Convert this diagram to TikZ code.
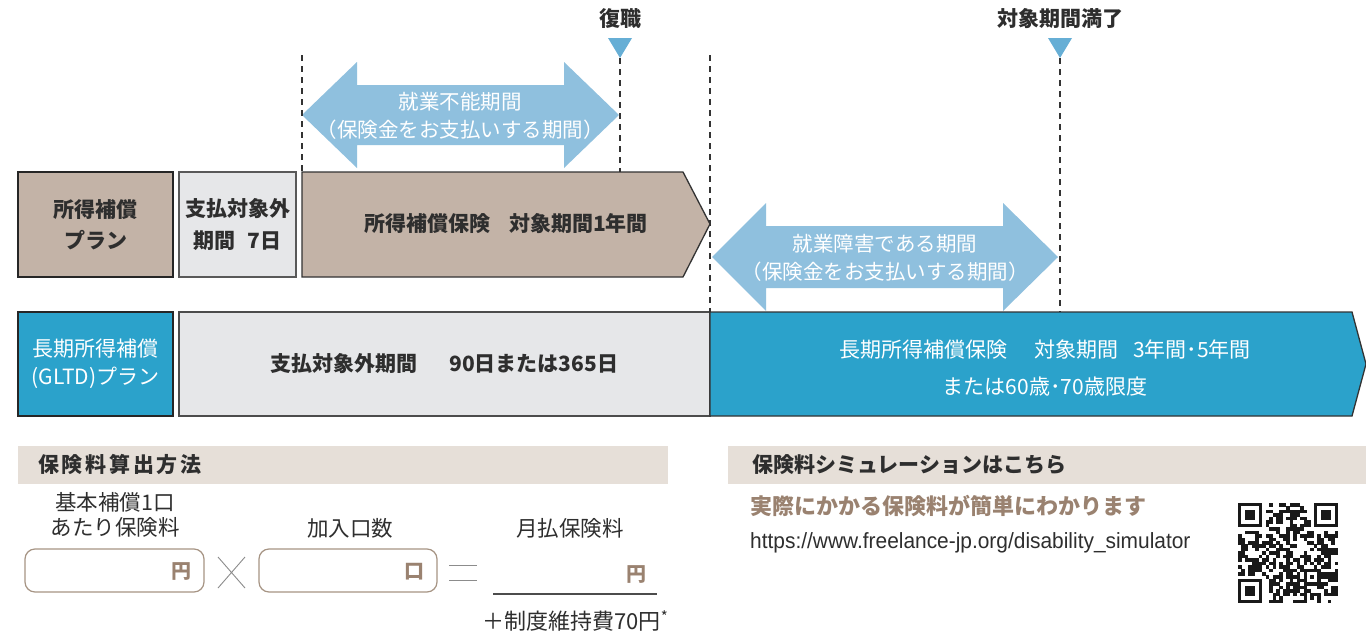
\documentclass[tikz,border=0pt]{standalone}
\usepackage{fontspec}
\setmainfont{Noto Sans CJK JP}
\newfontfamily\urlfont[FakeStretch=0.95]{Liberation Sans}
\definecolor{brownbox}{HTML}{C3B3A7}
\definecolor{graybox}{HTML}{E6E7E9}
\definecolor{bluebox}{HTML}{2BA2CB}
\definecolor{arrowblue}{HTML}{8FC0DE}
\definecolor{triblue}{HTML}{66AED5}
\definecolor{band}{HTML}{E6DFD8}
\definecolor{browntext}{HTML}{9A8270}
\definecolor{roundborder}{HTML}{A69484}
\definecolor{darktext}{HTML}{2E2E2E}
\definecolor{edge}{HTML}{333333}
\tikzset{
  darklbl/.style={text=darktext, font=\bfseries\fontsize{21}{31}\selectfont, align=center, inner sep=0},
  whitelbl/.style={text=white, font=\fontsize{20.5}{28}\selectfont, align=center, inner sep=0},
  formlbl/.style={text=darktext, font=\fontsize{21.5}{25}\selectfont, align=center, inner sep=0},
  headlbl/.style={text=darktext, font=\bfseries\fontsize{21}{25}\selectfont, anchor=west, inner sep=0},
  unitlbl/.style={text=browntext, font=\bfseries\fontsize{20}{24}\selectfont, inner sep=0},
  plainbox/.style={draw=edge, line width=1.2pt, inner sep=0},
  inputbox/.style={draw=roundborder, line width=1.2pt, rounded corners=10pt, fill=white},
  guideline/.style={draw=edge, line width=1.5pt, dash pattern=on 6pt off 5pt},
  band/.style={fill=band, draw=none},
}
\begin{document}
\begin{tikzpicture}[x=1pt,y=-1pt]
\useasboundingbox (0,0) rectangle (1366,632);
\fill[white] (0,0) rectangle (1366,632);

% ---------- double arrows ----------
\fill[arrowblue] (302,115) -- (357,62) -- (357,85) -- (564,85) -- (564,62) -- (619,115)
  -- (564,168) -- (564,145) -- (357,145) -- (357,168) -- cycle;
\node[whitelbl] (a1) at (460,116) {就業不能期間\\（保険金をお支払いする期間）};

\fill[arrowblue] (712,257) -- (766,203) -- (766,226) -- (1003,226) -- (1003,203) -- (1058,257)
  -- (1003,311) -- (1003,288) -- (766,288) -- (766,311) -- cycle;
\node[whitelbl] (a2) at (885,258) {就業障害である期間\\（保険金をお支払いする期間）};

% ---------- row 1 ----------
\node[plainbox, line width=2pt, draw=black!85, fill=brownbox, minimum width=155pt, minimum height=105pt] (p1) at (95.5,224.5) {};
\node[darklbl] (p1t) at (p1.center) {所得補償\\プラン};
\node[plainbox, draw=black!65, fill=graybox, minimum width=117pt, minimum height=105pt] (w1) at (237.5,224.5) {};
\node[darklbl, font=\bfseries\fontsize{21}{32}\selectfont] (w1t) at (w1.center) {支払対象外\\期間\hspace{0.6em}7日};
\filldraw[fill=brownbox, draw=edge, line width=1.3pt] (302,172) -- (683,172) -- (710,224) -- (683,277) -- (302,277) -- cycle;
\node[darklbl] (i1) at (506,224) {所得補償保険\hspace{0.9em}対象期間1年間};

% ---------- row 2 ----------
\node[plainbox, line width=2pt, draw=black!85, fill=bluebox, minimum width=155pt, minimum height=104pt] (p2) at (95.5,364) {};
\node[whitelbl, font=\fontsize{21}{28}\selectfont] (p2t) at (p2.center) {長期所得補償\\(GLTD)プラン};
\node[plainbox, draw=black!70, fill=graybox, minimum width=531pt, minimum height=104pt] (w2) at (444.5,364) {};
\node[darklbl] (w2t) at (w2.center) {支払対象外期間\hspace{1.5em}90日または365日};
\filldraw[fill=bluebox, draw=edge, line width=1.3pt] (710,312) -- (1352,312) -- (1366,364) -- (1352,416) -- (710,416) -- cycle;
\node[whitelbl, font=\fontsize{21}{37}\selectfont] (i2) at (1045,368) {長期所得補償保険\hspace{1.3em}対象期間\hspace{0.7em}3年間･5年間\\または60歳･70歳限度};

% ---------- markers ----------
\node[darklbl] (fk) at (620,19) {復職};
\fill[triblue] (608,38) -- (632,38) -- (620,58) -- cycle;
\node[darklbl] (mr) at (1060,19) {対象期間満了};
\fill[triblue] (1048,38) -- (1072,38) -- (1060,58) -- cycle;

% ---------- dashed guide lines ----------
\coordinate (g1t) at (302,55);  \coordinate (g1b) at (302,172);
\coordinate (g2t) at (620,58);  \coordinate (g2b) at (620,172);
\coordinate (g3t) at (710,55);  \coordinate (g3b) at (710,312);
\coordinate (g4t) at (1060,58); \coordinate (g4b) at (1060,312);
\draw[guideline] (g1t) -- (g1b);
\draw[guideline] (g2t) -- (g2b);
\draw[guideline] (g3t) -- (g3b);
\draw[guideline] (g4t) -- (g4b);

% ---------- premium calculation ----------
\fill[band] (18,446) rectangle (668,484);
\node[headlbl, font=\bfseries\fontsize{21}{25}\selectfont\addfontfeature{LetterSpace=13}] (h1) at (38,465) {保険料算出方法};
\node[formlbl] (f1) at (115,515) {基本補償1口\\あたり保険料};
\node[formlbl] (f2) at (350,528) {加入口数};
\node[formlbl] (f3) at (570,528) {月払保険料};
\draw[inputbox] (25,549) rectangle (204,592);
\node[unitlbl] (u1) at (181,572) {円};
\draw[black!45, line width=0.9pt] (218,557) -- (245,588) (218,588) -- (245,557);
\draw[inputbox] (259,549) rectangle (437,592);
\node[unitlbl] (u2) at (414,572) {口};
\draw[black!45, line width=0.9pt] (449,565) -- (477,565) (449,580) -- (477,580);
\coordinate (ul1) at (493,594); \coordinate (ul2) at (657,594);
\draw[black!70, line width=1.5pt] (ul1) -- (ul2);
\node[unitlbl] (u3) at (636,575) {円};
\node[formlbl, font=\fontsize{22}{25}\selectfont, anchor=east] (f4) at (668,621) {＋制度維持費70円\raisebox{0.55ex}{\fontsize{15}{15}\selectfont *}};

% ---------- simulation ----------
\fill[band] (728,446) rectangle (1366,484);
\node[headlbl] (h2) at (752,465) {保険料シミュレーションはこちら};
\node[headlbl, text=browntext, font=\bfseries\fontsize{22}{26}\selectfont] (s1) at (750,506) {実際にかかる保険料が簡単にわかります};
\node[anchor=west, inner sep=0, text=darktext, font=\urlfont\fontsize{22}{24}\selectfont] (url) at (750,543) {https://www.freelance-jp.org/disability\_simulator};

% ---------- QR code (pattern) ----------
\begin{scope}[shift={(1238,503)}]
  \pgfmathsetseed{4711}
  \foreach \i in {0,...,28}{
    \foreach \j in {0,...,28}{
      \pgfmathtruncatemacro\skipit{((\i<8)&&(\j<8)) || ((\i>20)&&(\j<8)) || ((\i<8)&&(\j>20)) || ((\i>18)&&(\i<24)&&(\j>18)&&(\j<24)) ? 1 : 0}
      \pgfmathrandominteger{\r}{0}{1}
      \ifnum\skipit=0 \ifnum\r=1 \fill[black!90] (\i*3.45,\j*3.45) rectangle ++(3.55,3.55); \fi\fi
    }
  }
  \foreach \ox/\oy in {0/0, 22/0, 0/22}{
    \fill[black!90] (\ox*3.45,\oy*3.45) rectangle ++(7*3.45,7*3.45);
    \fill[white] (\ox*3.45+3.45,\oy*3.45+3.45) rectangle ++(5*3.45,5*3.45);
    \fill[black!90] (\ox*3.45+6.9,\oy*3.45+6.9) rectangle ++(3*3.45,3*3.45);
  }
  \fill[black!90] (19*3.45,19*3.45) rectangle ++(5*3.45,5*3.45);
  \fill[white] (20*3.45,20*3.45) rectangle ++(3*3.45,3*3.45);
  \fill[black!90] (21*3.45,21*3.45) rectangle ++(3.45,3.45);
\end{scope}
\end{tikzpicture}
\end{document}
